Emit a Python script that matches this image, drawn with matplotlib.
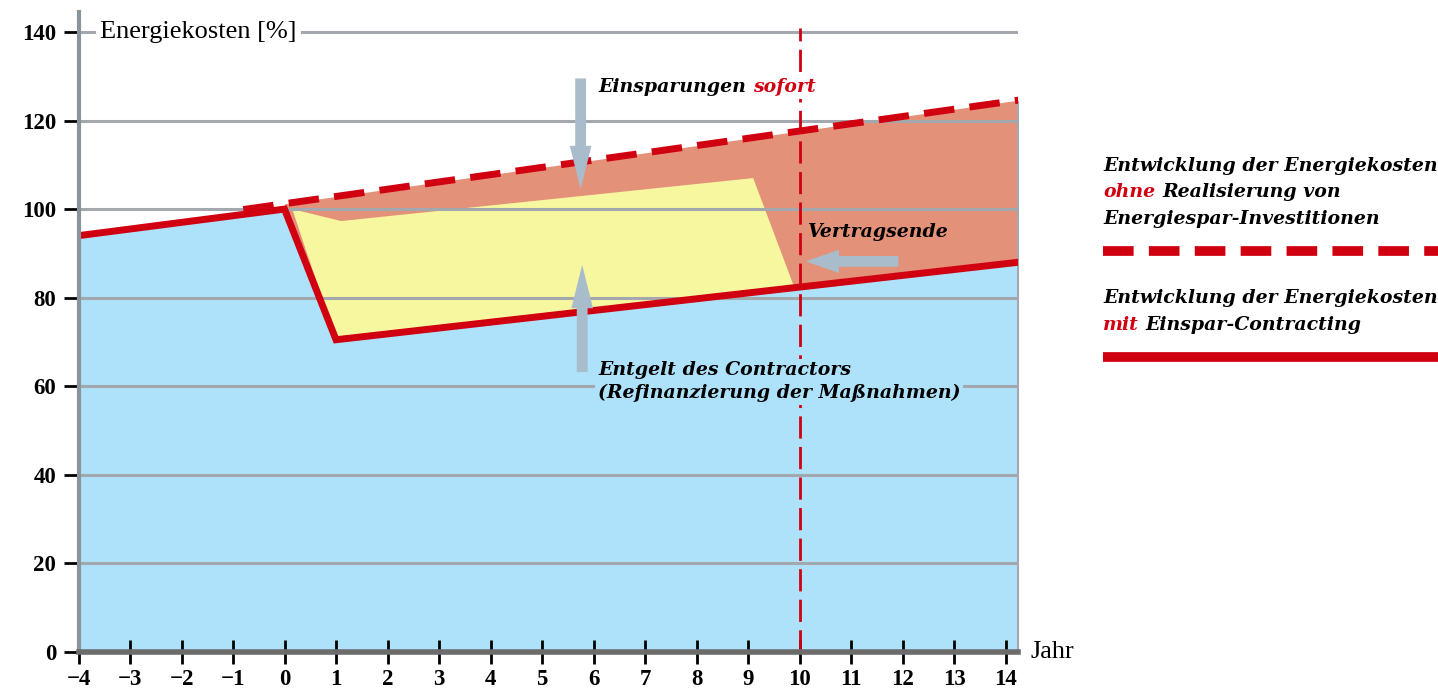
import matplotlib
matplotlib.use("Agg")
import matplotlib.pyplot as plt
import numpy as np
from matplotlib.lines import Line2D

# --- data ---
jahre = np.arange(-4, 15)
kosten_ticks = np.arange(0, 141, 20)

# Energiekosten mit Einspar-Contracting (solid line / blue area)
mit_x = [-4, 0, 1, 14.25]
mit_y = [94, 100, 70.5, 88]
# Energiekosten ohne Investitionen (dashed line)
ohne_x = [-0.8, 14.25]
ohne_y = [99.9, 124.6]
# Entgelt des Contractors (yellow area)
entgelt_x = [0.15, 1.1, 9.1, 9.9, 1.0]
entgelt_y = [100, 97.3, 107, 82.3, 70.5]
vertragsende = 10

# --- colours ---
blau = "#aee2fa"
lachs = "#e4917a"
gelb = "#f7f7a0"
rot = "#d10010"
gitter = "#a3a7ae"
pfeil = "#a9bccb"

serif = "Liberation Serif"
kursiv = dict(family="DejaVu Serif", style="italic", weight="bold", fontsize=13.6)

fig = plt.figure(figsize=(14.38, 6.91), dpi=100)
ax = fig.add_axes([78.5 / 1438, 39 / 691, (1018.4 - 78.5) / 1438, 640 / 691])
ax.set_xlim(-4, 14.25)
ax.set_ylim(0, 144.5)

# areas
ax.fill_between(mit_x, mit_y, 0, color=blau, lw=0, zorder=1)
xs = np.array([0, 1, 14.25])
ax.fill_between(xs, np.interp(xs, mit_x, mit_y), np.interp(xs, ohne_x, ohne_y),
                color=lachs, lw=0, zorder=1)
ax.fill(entgelt_x, entgelt_y, color=gelb, lw=0, zorder=2)

# grid
for v in kosten_ticks[1:]:
    ax.axhline(v, color=gitter, lw=2.2, zorder=3)
ax.plot([14.25, 14.25], [0, 124], color=gitter, lw=1.5, zorder=3, clip_on=False)

# lines
ax.plot(mit_x, mit_y, color=rot, lw=5, zorder=5, solid_joinstyle="miter")
ax.plot(ohne_x, ohne_y, color=rot, lw=5, ls=(0, (4.4, 2.2)), zorder=5)
ax.plot([vertragsende, vertragsende], [0, 141], color=rot, lw=2, ls=(0, (8, 3)), zorder=6)

# axes styling
for s in ["top", "right"]:
    ax.spines[s].set_visible(False)
ax.spines["left"].set_color("#8a949b")
ax.spines["left"].set_linewidth(3)
ax.spines["bottom"].set_color("#6b6b6b")
ax.spines["bottom"].set_linewidth(4)
ax.spines["left"].set_zorder(8)
ax.spines["bottom"].set_zorder(8)
ax.set_yticks(kosten_ticks)
ax.set_xticks(jahre)
ax.tick_params(axis="y", direction="inout", length=22, width=2, color="black", pad=5)
ax.tick_params(axis="x", direction="inout", length=17, width=2, color="black", pad=4)
for lab in ax.get_xticklabels() + ax.get_yticklabels():
    lab.set_family(serif)
    lab.set_fontweight("bold")
    lab.set_fontsize(16.5)
ax.set_axisbelow(False)

ax.text(-3.58, 140, "Energiekosten [%]", ha="left", va="center", family=serif,
        fontsize=19, zorder=9,
        bbox=dict(facecolor="white", edgecolor="none", pad=3))
ax.text(14.48, 0, "Jahr", ha="left", va="center", family=serif, fontsize=19,
        clip_on=False)

# arrows
def pfeil_zu(start, ziel, tw, hw, hl):
    ax.annotate("", xy=ziel, xytext=start, zorder=7,
                arrowprops=dict(arrowstyle=f"simple,head_width={hw},head_length={hl},tail_width={tw}",
                                fc=pfeil, ec="none", mutation_scale=12, shrinkA=0, shrinkB=0))

pfeil_zu((5.75, 129.5), (5.75, 104.5), 0.65, 1.3, 2.6)
pfeil_zu((5.78, 63.2), (5.78, 87.4), 0.65, 1.3, 2.6)
pfeil_zu((11.92, 88.2), (10.12, 88.2), 0.65, 1.4, 2.0)

fig.canvas.draw()
renderer = fig.canvas.get_renderer()

# "Einsparungen sofort"
t1 = ax.text(6.09, 127.5, "Einsparungen", ha="left", va="center", zorder=9, **kursiv)
bb = t1.get_window_extent(renderer)
x2 = ax.transData.inverted().transform((bb.x1 + 7, 0))[0]
ax.text(x2, 127.5, "sofort", ha="left", va="center", color=rot, zorder=9,
        bbox=dict(facecolor="white", edgecolor="none", pad=2), **kursiv)

ax.text(10.17, 94.8, "Vertragsende", ha="left", va="center", zorder=9, **kursiv)
ax.text(6.09, 65.6, "Entgelt des Contractors\n(Refinanzierung der Maßnahmen)",
        ha="left", va="top", linespacing=1.3, zorder=9,
        bbox=dict(facecolor=blau, edgecolor="none", pad=2), **kursiv)

# legend on the right
def zeile(px_x, px_y, teile):
    x = px_x / 1438
    y = 1 - px_y / 691
    for s, c in teile:
        t = fig.text(x, y, s, color=c, ha="left", va="center", **kursiv)
        b = t.get_window_extent(renderer)
        x = (b.x1 + 7) / 1438

zeile(1103, 166, [("Entwicklung der Energiekosten", "black")])
zeile(1103, 192, [("ohne", rot), ("Realisierung von", "black")])
zeile(1103, 219, [("Energiespar-Investitionen", "black")])
fig.add_artist(Line2D([1103 / 1438, 1.0], [1 - 251 / 691] * 2, color=rot, lw=7,
                      ls=(0, (3.15, 1.57)), dash_capstyle="butt",
                      transform=fig.transFigure))
zeile(1103, 298, [("Entwicklung der Energiekosten", "black")])
zeile(1103, 325, [("mit", rot), ("Einspar-Contracting", "black")])
fig.add_artist(Line2D([1103 / 1438, 1.0], [1 - 357 / 691] * 2, color=rot, lw=7,
                      solid_capstyle="butt", transform=fig.transFigure))

fig.savefig("out.png", dpi=100)
